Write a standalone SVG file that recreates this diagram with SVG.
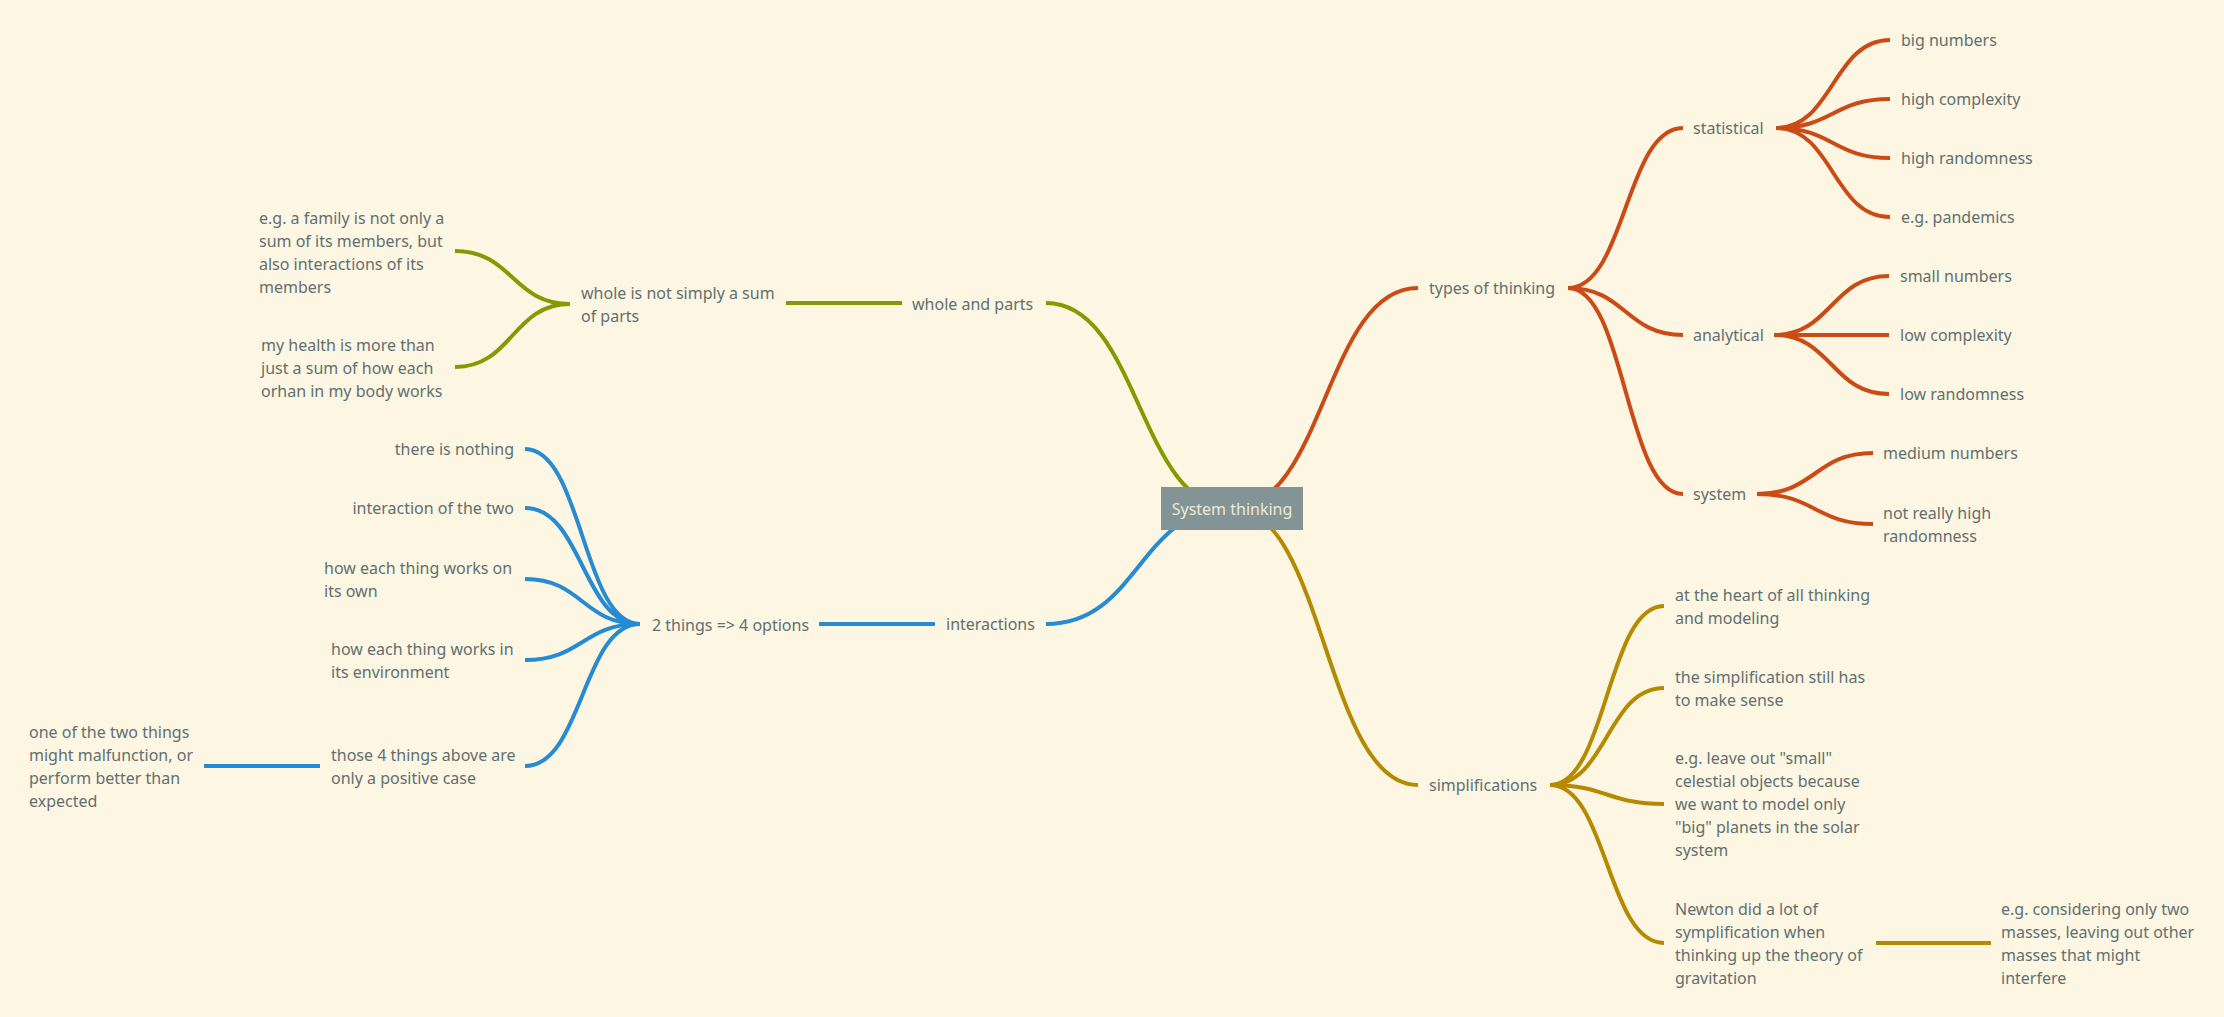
<svg xmlns="http://www.w3.org/2000/svg" width="2224" height="1017" viewBox="0 0 2224 1017">
<style>
text{font-family:"Noto Sans","Open Sans","DejaVu Sans",sans-serif;font-size:16px;fill:#617070}
.e{fill:none;stroke-width:4}
.r{stroke:#cb4b16}.b{stroke:#268bd2}.g{stroke:#859900}.y{stroke:#b58900}
.root text{fill:#eee8d5}
.end{text-anchor:end}
</style>
<rect width="2224" height="1017" fill="#fdf6e3"/>
<g id="connectors">
<path class="e g" d="M1232,508 C1139,508 1139,303 1046,303"/>
<path class="e b" d="M1232,508 C1139,508 1139,624 1046,624"/>
<path class="e r" d="M1232,508 C1325,508 1325,288 1418,288"/>
<path class="e y" d="M1232,508 C1325,508 1325,785 1418,785"/>
<path class="e r" d="M1568,288 C1625.5,288 1625.5,128 1683,128"/>
<path class="e r" d="M1568,288 C1625.5,288 1625.5,335 1683,335"/>
<path class="e r" d="M1568,288 C1625.5,288 1625.5,494 1683,494"/>
<path class="e r" d="M1776,128 C1833,128 1833,40 1890,40"/>
<path class="e r" d="M1776,128 C1833,128 1833,99 1890,99"/>
<path class="e r" d="M1776,128 C1833,128 1833,158 1890,158"/>
<path class="e r" d="M1776,128 C1833,128 1833,217 1890,217"/>
<path class="e r" d="M1774,335 C1831.5,335 1831.5,276 1889,276"/>
<path class="e r" d="M1774,335 L1889,335"/>
<path class="e r" d="M1774,335 C1831.5,335 1831.5,394 1889,394"/>
<path class="e r" d="M1757,494 C1815,494 1815,453 1873,453"/>
<path class="e r" d="M1757,494 C1815,494 1815,524 1873,524"/>
<path class="e y" d="M1550,785 C1607,785 1607,606 1664,606"/>
<path class="e y" d="M1550,785 C1607,785 1607,688 1664,688"/>
<path class="e y" d="M1550,785 C1607,785 1607,804 1664,804"/>
<path class="e y" d="M1550,785 C1607,785 1607,943 1664,943"/>
<path class="e y" d="M1876,943 L1991,943"/>
<path class="e g" d="M902,303 L786,303"/>
<path class="e g" d="M570,304 C512.5,304 512.5,251 455,251"/>
<path class="e g" d="M570,304 C512.5,304 512.5,367 455,367"/>
<path class="e b" d="M935,624 L819,624"/>
<path class="e b" d="M640,624 C582.5,624 582.5,449 525,449"/>
<path class="e b" d="M640,624 C582.5,624 582.5,508 525,508"/>
<path class="e b" d="M640,624 C582.5,624 582.5,579 525,579"/>
<path class="e b" d="M640,624 C582.5,624 582.5,660 525,660"/>
<path class="e b" d="M640,624 C582.5,624 582.5,766 525,766"/>
<path class="e b" d="M320,766 L204,766"/>
</g>
<g id="root" class="root"><rect x="1161" y="487" width="142" height="43" fill="#839496"/><text x="1232" y="514.5" text-anchor="middle">System thinking</text></g>
<g id="types"><text x="1429" y="294">types of thinking</text></g>
<g id="statistical"><text x="1693" y="134">statistical</text></g>
<g id="big-numbers"><text x="1901" y="46">big numbers</text></g>
<g id="high-complexity"><text x="1901" y="105">high complexity</text></g>
<g id="high-randomness"><text x="1901" y="164">high randomness</text></g>
<g id="pandemics"><text x="1901" y="223">e.g. pandemics</text></g>
<g id="analytical"><text x="1693" y="341">analytical</text></g>
<g id="small-numbers"><text x="1900" y="282">small numbers</text></g>
<g id="low-complexity"><text x="1900" y="341">low complexity</text></g>
<g id="low-randomness"><text x="1900" y="400">low randomness</text></g>
<g id="system"><text x="1693" y="500">system</text></g>
<g id="medium-numbers"><text x="1883" y="459">medium numbers</text></g>
<g id="not-really"><text x="1883" y="518.5">not really high<tspan x="1883" dy="23">randomness</tspan></text></g>
<g id="simplifications"><text x="1429" y="791">simplifications</text></g>
<g id="heart"><text x="1675" y="600.5">at the heart of all thinking<tspan x="1675" dy="23">and modeling</tspan></text></g>
<g id="sense"><text x="1675" y="682.5">the simplification still has<tspan x="1675" dy="23">to make sense</tspan></text></g>
<g id="leave-out"><text x="1675" y="764">e.g. leave out "small"<tspan x="1675" dy="23">celestial objects because</tspan><tspan x="1675" dy="23">we want to model only</tspan><tspan x="1675" dy="23">"big" planets in the solar</tspan><tspan x="1675" dy="23">system</tspan></text></g>
<g id="newton"><text x="1675" y="914.5">Newton did a lot of<tspan x="1675" dy="23">symplification when</tspan><tspan x="1675" dy="23">thinking up the theory of</tspan><tspan x="1675" dy="23">gravitation</tspan></text></g>
<g id="two-masses"><text x="2001" y="914.5">e.g. considering only two<tspan x="2001" dy="23">masses, leaving out other</tspan><tspan x="2001" dy="23">masses that might</tspan><tspan x="2001" dy="23">interfere</tspan></text></g>
<g id="whole-parts"><text x="912" y="309.5">whole and parts</text></g>
<g id="whole-not-sum"><text x="581" y="298.5">whole is not simply a sum<tspan x="581" dy="23">of parts</tspan></text></g>
<g id="family"><text x="259" y="223.5">e.g. a family is not only a<tspan x="259" dy="23">sum of its members, but</tspan><tspan x="259" dy="23">also interactions of its</tspan><tspan x="259" dy="23">members</tspan></text></g>
<g id="health"><text x="261" y="351">my health is more than<tspan x="261" dy="23">just a sum of how each</tspan><tspan x="261" dy="23">orhan in my body works</tspan></text></g>
<g id="interactions"><text x="946" y="630">interactions</text></g>
<g id="two-things"><text x="652" y="630.5">2 things =&gt; 4 options</text></g>
<g id="nothing"><text class="end" x="514" y="455">there is nothing</text></g>
<g id="interaction-two"><text class="end" x="514" y="514">interaction of the two</text></g>
<g id="own"><text x="324" y="573.5">how each thing works on<tspan x="324" dy="23">its own</tspan></text></g>
<g id="environment"><text x="331" y="654.5">how each thing works in<tspan x="331" dy="23">its environment</tspan></text></g>
<g id="positive"><text x="331" y="760.5">those 4 things above are<tspan x="331" dy="23">only a positive case</tspan></text></g>
<g id="malfunction"><text x="29" y="737.5">one of the two things<tspan x="29" dy="23">might malfunction, or</tspan><tspan x="29" dy="23">perform better than</tspan><tspan x="29" dy="23">expected</tspan></text></g>
</svg>
